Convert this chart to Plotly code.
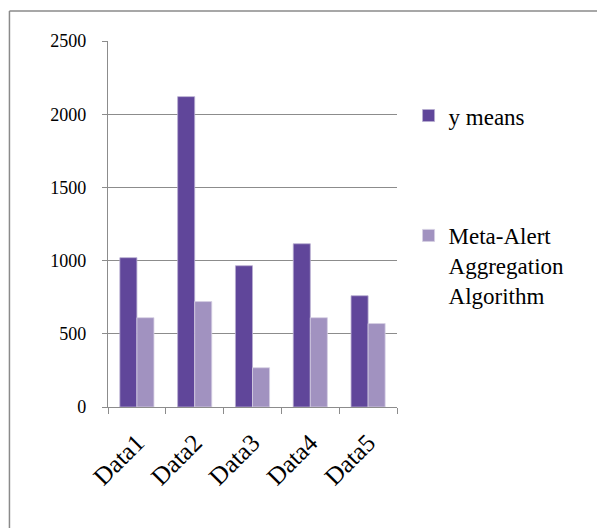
import plotly.graph_objects as go

categories = ["Data1", "Data2", "Data3", "Data4", "Data5"]
y_means = [1020, 2120, 965, 1115, 760]
meta_alert = [610, 720, 268, 610, 570]
series_names = ["y means", "Meta-Alert<br>Aggregation<br>Algorithm"]
y_ticks = [0, 500, 1000, 1500, 2000, 2500]

FONT = "Liberation Serif"
GRID = "#8c8c8c"

fig = go.Figure()
fig.add_trace(go.Bar(x=categories, y=y_means, name=series_names[0], legendgroup="a",
                     marker=dict(color="#60469a", line=dict(color="#b8add0", width=0.8))))
fig.add_trace(go.Bar(x=categories, y=meta_alert, name=series_names[1], legendgroup="b",
                     marker=dict(color="#a192c0", line=dict(color="#d6cfe3", width=0.8))))

fig.update_layout(
    width=597, height=528,
    margin=dict(l=108, r=200, t=41, b=121),
    paper_bgcolor="white", plot_bgcolor="white",
    font=dict(family=FONT, color="black"),
    barmode="group", bargap=0.41, bargroupgap=0,
    showlegend=True,
    legend=dict(x=1.04, y=0.855, xanchor="left", yanchor="top",
                font=dict(family=FONT, size=23, color="black"),
                tracegroupgap=87, valign="top", bgcolor="rgba(0,0,0,0)"),
    shapes=[
        dict(type="line", xref="paper", yref="paper", x0=-0.341, x1=1.8, y0=1.082, y1=1.082,
             line=dict(color="#8a8a8a", width=1.5)),
        dict(type="line", xref="paper", yref="paper", x0=-0.341, x1=-0.341, y0=1.082, y1=-0.4,
             line=dict(color="#8a8a8a", width=1.5)),
    ],
)
fig.update_yaxes(range=[0, 2500], tickvals=y_ticks, showgrid=True, gridcolor=GRID, gridwidth=1.3,
                 showline=True, linecolor=GRID, linewidth=1.3, ticks="outside", ticklen=5,
                 tickcolor=GRID, tickwidth=1.3, zeroline=False,
                 tickfont=dict(family=FONT, size=18, color="black"), ticklabelstandoff=12)
fig.update_xaxes(showline=True, linecolor=GRID, linewidth=1.3, ticks="outside", ticklen=6,
                 tickcolor=GRID, tickwidth=1.3, tickson="boundaries", tickangle=-45,
                 tickfont=dict(family=FONT, size=25, color="black"), ticklabelstandoff=10)

fig.write_html("out.html", config={"displayModeBar": False},
               post_script="document.body.style.margin='0';document.body.style.padding='0';")
